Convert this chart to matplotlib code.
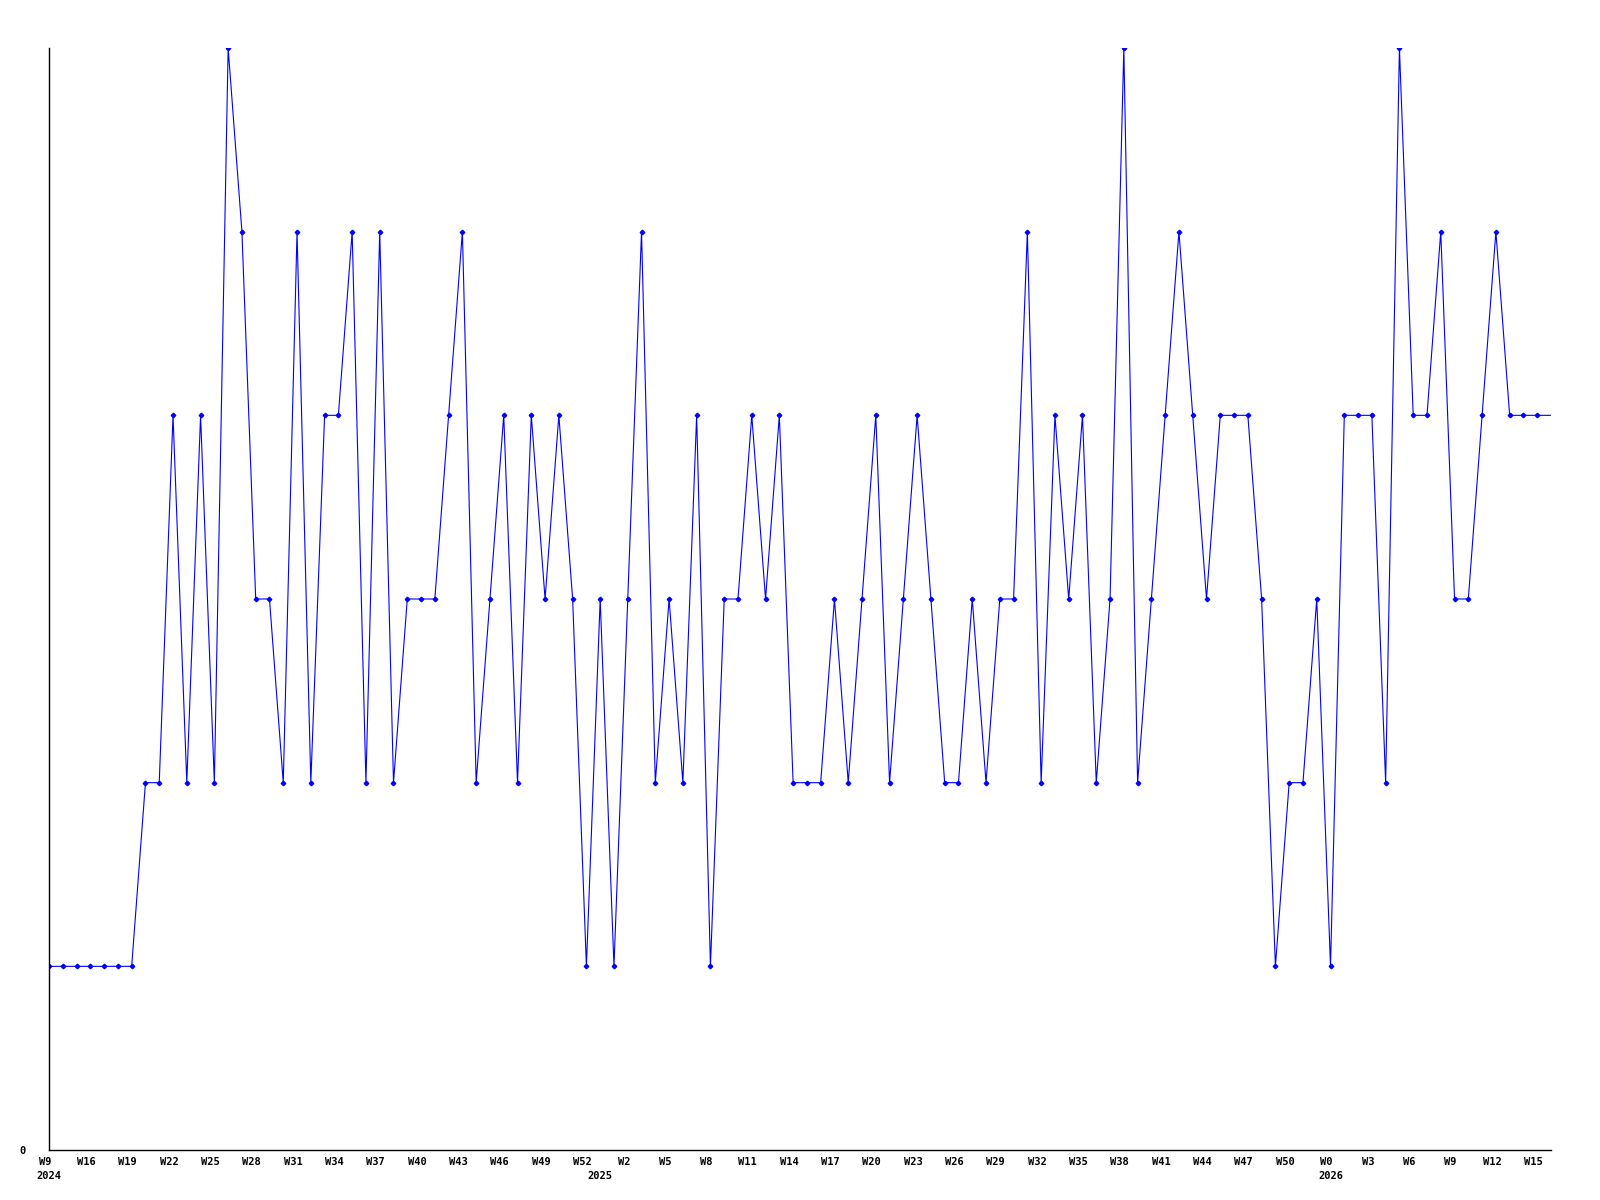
import matplotlib
matplotlib.use("Agg")
import matplotlib.pyplot as plt
import matplotlib.transforms as mtransforms

# weekly values, one per week starting at W9 2024
values = [1, 1, 1, 1, 1, 1, 1, 2, 2, 4, 2, 4, 2, 6, 5, 3, 3, 2, 5, 2,
          4, 4, 5, 2, 5, 2, 3, 3, 3, 4, 5, 2, 3, 4, 2, 4, 3, 4, 3, 1,
          3, 1, 3, 5, 2, 3, 2, 4, 1, 3, 3, 4, 3, 4, 2, 2, 2, 3, 2, 3,
          4, 2, 3, 4, 3, 2, 2, 3, 2, 3, 3, 5, 2, 4, 3, 4, 2, 3, 6, 2,
          3, 4, 5, 4, 3, 4, 4, 4, 3, 1, 2, 2, 3, 1, 4, 4, 4, 2, 6, 4,
          4, 5, 3, 3, 4, 5, 4, 4, 4, 4]

week_labels = ['W9', 'W16', 'W19', 'W22', 'W25', 'W28', 'W31', 'W34', 'W37',
               'W40', 'W43', 'W46', 'W49', 'W52', 'W2', 'W5', 'W8', 'W11',
               'W14', 'W17', 'W20', 'W23', 'W26', 'W29', 'W32', 'W35', 'W38',
               'W41', 'W44', 'W47', 'W50', 'W0', 'W3', 'W6', 'W9', 'W12', 'W15']
year_labels = ['2024', '2025', '2026']
year_index = [0, 40, 93]

x = list(range(len(values)))
font = dict(family='DejaVu Sans Mono', fontweight='bold', fontsize=7.5)

fig = plt.figure(figsize=(16, 12), dpi=100)
ax = fig.add_axes([49 / 1600, 50 / 1200, 1502 / 1600, 1102 / 1200])

ax.plot(x, values, color='#0000ff', linewidth=0.8, marker='D',
        markersize=2.3, markevery=slice(0, len(values) - 1))

ax.set_xlim(0, len(values) - 1)
ax.set_ylim(0, 6)

for s in ['top', 'right']:
    ax.spines[s].set_visible(False)
ax.spines['left'].set_linewidth(1.0)
ax.spines['bottom'].set_linewidth(1.0)

ax.set_xticks(x[::3][:len(week_labels)])
ax.set_xticklabels(week_labels, **font)
ax.set_yticks([0])
ax.set_yticklabels(['0'], **font)
ax.tick_params(length=0, pad=5)
ax.tick_params(axis='y', pad=17)

# labels sit a little left of their ticks
shift = mtransforms.ScaledTranslation(-4 / 100, 0, fig.dpi_scale_trans)
for lab in ax.get_xticklabels():
    lab.set_transform(lab.get_transform() + shift)

for lab, i in zip(year_labels, year_index):
    ax.annotate(lab, xy=(i, 0), xycoords='data', xytext=(-9, -15),
                textcoords='offset points', ha='left', va='top', **font)

fig.savefig('out.png', dpi=100)
